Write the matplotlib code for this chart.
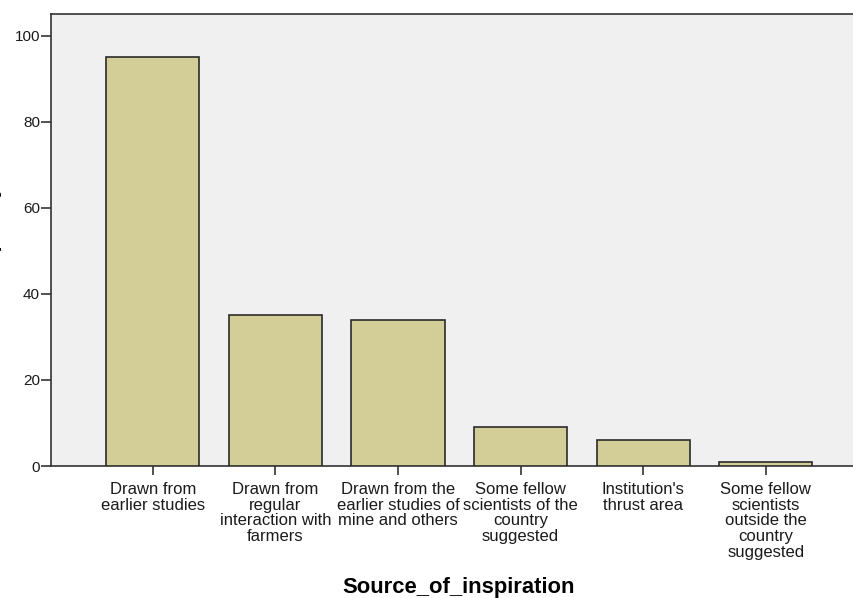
import matplotlib.pyplot as plt

categories = [
    "Drawn from\nearlier studies",
    "Drawn from\nregular\ninteraction with\nfarmers",
    "Drawn from the\nearlier studies of\nmine and others",
    "Some fellow\nscientists of the\ncountry\nsuggested",
    "Institution's\nthrust area",
    "Some fellow\nscientists\noutside the\ncountry\nsuggested",
]
frequency = [95, 35, 34, 9, 6, 1]
y_ticks = [0, 20, 40, 60, 80, 100]

plt.rcParams["font.family"] = ["Liberation Sans", "DejaVu Sans"]

fig = plt.figure(figsize=(8.54, 5.98), dpi=100)
ax = fig.add_axes([51 / 854, 1 - 466 / 598, 1 - 51 / 854, 452 / 598])
ax.set_facecolor("#F0F0F0")

x = range(len(categories))
ax.bar(x, frequency, width=0.76, color="#D3CE97", edgecolor="#2b2b2b", linewidth=1.2, zorder=3)

ax.set_xlim(-0.83, 5.72)
ax.set_ylim(0, 105.1)
ax.set_yticks(y_ticks)
ax.set_xticks(list(x))
ax.set_xticklabels(categories, fontsize=12, linespacing=1.06, va="top")
ax.tick_params(axis="y", direction="out", length=7.5, width=1.2, labelsize=11, colors="#333333", pad=0.5)
ax.tick_params(axis="x", direction="out", length=6.5, width=1.2, pad=5, colors="#333333")
for lab in ax.get_yticklabels() + ax.get_xticklabels():
    lab.set_color("#1a1a1a")

for side in ["left", "bottom", "top"]:
    ax.spines[side].set_color("#333333")
    ax.spines[side].set_linewidth(1.2)
ax.spines["right"].set_visible(False)

ax.set_xlabel("Source_of_inspiration", fontsize=15.8, fontweight="bold", va="baseline")
ax.xaxis.set_label_coords((459 - 51) / (854 - 51), -(593 - 466) / 452)

# y label mostly cut off by the left edge, as in the source image
fig.text(0.5 / 854, 1 - 236 / 598, "Frequency", rotation=90, fontsize=15, fontweight="bold",
         ha="right", va="center")

fig.savefig("out.png", dpi=100)
